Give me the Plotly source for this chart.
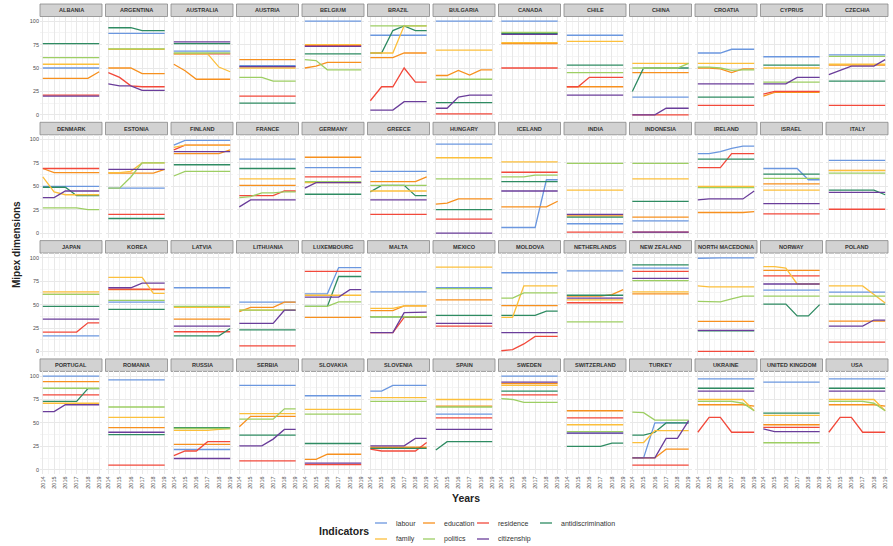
import plotly.graph_objects as go

years = [2014, 2015, 2016, 2017, 2018, 2019]

countries = [
    "ALBANIA", "ARGENTINA", "AUSTRALIA", "AUSTRIA", "BELGIUM", "BRAZIL", "BULGARIA",
    "CANADA", "CHILE", "CHINA", "CROATIA", "CYPRUS", "CZECHIA",
    "DENMARK", "ESTONIA", "FINLAND", "FRANCE", "GERMANY", "GREECE", "HUNGARY",
    "ICELAND", "INDIA", "INDONESIA", "IRELAND", "ISRAEL", "ITALY",
    "JAPAN", "KOREA", "LATVIA", "LITHUANIA", "LUXEMBOURG", "MALTA", "MEXICO",
    "MOLDOVA", "NETHERLANDS", "NEW ZEALAND", "NORTH MACEDONIA", "NORWAY", "POLAND",
    "PORTUGAL", "ROMANIA", "RUSSIA", "SERBIA", "SLOVAKIA", "SLOVENIA", "SPAIN",
    "SWEDEN", "SWITZERLAND", "TURKEY", "UKRAINE", "UNITED KINGDOM", "USA",
]

indicators = ["labour", "education", "residence", "antidiscrimination",
              "family", "politics", "citizenship"]

labour = [
    [50, 50, 50, 50, 50, 50], [87, 87, 87, 87, 87, 87], [68, 68, 68, 68, 68, 68],
    [52.5, 52.5, 52.5, 52.5, 52.5, 52.5], [100, 100, 100, 100, 100, 100], [85, 85, 85, 85, 85, 85],
    [100, 100, 100, 100, 100, 100], [100, 100, 100, 100, 100, 100], [85, 85, 85, 85, 85, 85],
    [19, 19, 19, 19, 19, 19], [66, 66, 66, 70, 70, 70], [62, 62, 62, 62, 62, 62],
    [64, 64, 64, 64, 64, 64],
    [50, 50, 50, 50, 50, 50], [48, 48, 48, 48, 48, 48], [94, 99, 99, 99, 99, 99],
    [79, 79, 79, 79, 79, 79], [70, 70, 70, 70, 70, 70], [66, 66, 66, 66, 66, 66],
    [95, 95, 95, 95, 95, 95], [6, 6, 6, 6, 57, 57], [10, 10, 10, 10, 10, 10],
    [13, 13, 13, 13, 13, 13], [85, 85, 87, 90.5, 93, 93], [69, 69, 69, 69, 57, 57],
    [77.7, 77.7, 77.7, 77.7, 77.7, 77.7],
    [16.7, 16.7, 16.7, 16.7, 16.7, 16.7], [52.7, 52.7, 52.7, 52.7, 52.7, 52.7], [68, 68, 68, 68, 68, 68],
    [52.7, 52.7, 52.7, 52.7, 52.7, 52.7], [61.5, 61.5, 61.5, 89.5, 89.5, 89.5], [63.6, 63.6, 63.6, 63.6, 63.6, 63.6],
    [68, 68, 68, 68, 68, 68], [84, 84, 84, 84, 84, 84], [86, 86, 86, 86, 86, 86],
    [89, 89, 89, 89, 89, 89], [99.5, 100, 100, 100, 100, 100], [65.5, 65.5, 65.5, 65.5, 65.5, 65.5],
    [63.3, 63.3, 63.3, 63.3, 63.3, 63.3],
    [100, 100, 100, 100, 100, 100], [96, 96, 96, 96, 96, 96], [21.6, 21.6, 21.6, 21.6, 21.6, 21.6],
    [90, 90, 90, 90, 90, 90], [79, 79, 79, 79, 79, 79], [84, 84, 90, 90, 90, 90],
    [59.4, 59.4, 59.4, 59.4, 59.4, 59.4], [100, 100, 100, 100, 100, 100], [39, 39, 39, 39, 39, 39],
    [12.6, 12.6, 50, 50, 50, 50], [97, 97, 97, 97, 97, 97], [93.5, 93.5, 93.5, 93.5, 93.5, 93.5],
    [97, 97, 97, 97, 97, 97],
]

education = [
    [39, 39, 39, 39, 39, 46], [50, 50, 50, 44, 44, 44], [54, 47, 38, 38, 38, 38],
    [59, 59, 59, 59, 59, 59], [50, 52, 56, 56, 56, 56], [61, 61, 61, 66, 66, 66],
    [42, 42, 47.5, 42.5, 48, 48], [76, 76, 76, 76, 76, 76], [30, 30, 30, 30, 30, 30],
    [45, 45, 45, 45, 45, 45], [50, 50, 49, 45, 49, 49], [20, 24, 24, 24, 24, 24],
    [53, 53, 53, 53, 53, 53],
    [69, 64.5, 64.5, 64.5, 64.5, 64.5], [64, 64, 64, 64, 64, 68], [85, 85, 85, 85, 85, 89],
    [51, 51, 51, 51, 51, 51], [81, 81, 81, 81, 81, 81], [55, 55, 55, 55, 55, 60],
    [31, 32, 36.5, 36.5, 36.5, 36.5], [28, 28, 28, 28, 28, 34], [18.5, 18.5, 18.5, 18.5, 18.5, 18.5],
    [17, 17, 17, 17, 17, 17], [22, 22, 22, 22, 22, 23], [52.5, 52.5, 52.5, 52.5, 52.5, 52.5],
    [67, 67, 67, 67, 67, 67],
    [61, 61, 61, 61, 61, 61], [66, 66, 66, 66, 66, 66], [34.5, 34.5, 34.5, 34.5, 34.5, 34.5],
    [42.5, 47, 47, 47, 52.7, 52.7], [36.4, 36.4, 36.4, 36.4, 36.4, 36.4], [43.6, 43.6, 43.6, 48.7, 48.7, 48.7],
    [55, 55, 55, 55, 55, 55], [49, 49, 49, 49, 49, 49], [59, 59, 59, 59, 60.7, 66],
    [61.5, 61.5, 61.5, 61.5, 61.5, 61.5], [32, 32, 32, 32, 32, 32], [86.5, 86.5, 86.5, 86.5, 86.5, 86.5],
    [32.4, 32.4, 32.4, 32.4, 32.4, 32.4],
    [94, 94, 94, 94, 94, 94], [45, 45, 45, 45, 45, 45], [27, 27, 27, 27, 27, 27],
    [46, 57, 57, 57, 57, 57], [11, 11, 16.5, 16.5, 16.5, 16.5], [24, 24, 24, 24, 24, 24],
    [68, 68, 68, 68, 68, 68], [92, 92, 92, 92, 92, 92], [63, 63, 63, 63, 63, 63],
    [12.6, 12.6, 12.6, 22, 22, 22], [69.4, 69.4, 69.4, 69.4, 69.4, 68], [48, 48, 48, 48, 48, 48],
    [69.4, 69.4, 69.4, 69.4, 69.4, 68],
]

residence = [
    [21, 21, 21, 21, 21, 21], [45, 40, 31, 30, 30, 30], [65, 65, 65, 65, 65, 65],
    [20, 20, 20, 20, 20, 20], [74, 74, 74, 74, 74, 74], [15, 30, 30, 50, 35, 35],
    [1, 1, 1, 1, 1, 1], [50, 50, 50, 50, 50, 50], [30, 30, 40, 40, 40, 40],
    [0, 0, 0, 0, 0, 0], [10, 10, 10, 10, 10, 10], [22, 25, 25, 25, 25, 25],
    [10, 10, 10, 10, 10, 10],
    [69, 69, 69, 69, 69, 69], [20, 20, 20, 20, 20, 20], [89, 94, 94, 94, 94, 94],
    [40, 40, 40, 40, 45, 45], [60, 60, 60, 60, 60, 60], [20, 20, 20, 20, 20, 20],
    [15, 15, 15, 15, 15, 15], [65, 65, 65, 65, 65, 65], [1, 1, 1, 1, 1, 1],
    [1, 1, 1, 1, 1, 1], [70, 70, 70, 85, 85, 85], [20.6, 20.6, 20.6, 20.6, 20.6, 20.6],
    [25.5, 25.5, 25.5, 25.5, 25.5, 25.5],
    [20.7, 20.7, 20.7, 20.7, 30.5, 30.5], [66.5, 66.5, 66.5, 66.5, 66.5, 66.5], [21, 21, 21, 21, 21, 21],
    [6, 6, 6, 6, 6, 6], [85.5, 85.5, 85.5, 85.5, 85.5, 85.5], [20, 20, 20, 36.4, 36.4, 36.4],
    [27, 27, 27, 27, 27, 27], [0.7, 2, 8, 16, 16, 16], [52, 52, 52, 52, 52, 52],
    [85.5, 85.5, 85.5, 85.5, 85.5, 85.5], [0, 0, 0, 0, 0, 0], [80.7, 80.7, 80.7, 80.7, 80.7, 80.7],
    [10, 10, 10, 10, 10, 10],
    [80, 80, 80, 80, 80, 80], [5, 5, 5, 5, 5, 5], [15, 20, 20, 30, 30, 30],
    [9.4, 9.4, 9.4, 9.4, 9.4, 9.4], [5.4, 5.4, 5.4, 5.4, 5.4, 5.4], [22, 20, 20, 20, 20, 29],
    [55.4, 55.4, 55.4, 55.4, 55.4, 55.4], [80, 80, 80, 80, 80, 80], [55.4, 55.4, 55.4, 55.4, 55.4, 55.4],
    [5, 5, 5, 5, 5, 5], [40, 56, 56, 40, 40, 40], [45.3, 45.3, 45.3, 45.3, 45.3, 45.3],
    [40, 56, 56, 40, 40, 40],
]

antidiscrimination = [
    [76, 76, 76, 76, 76, 76], [93, 93, 93, 90, 90, 90], [76, 76, 76, 76, 76, 76],
    [12.5, 12.5, 12.5, 12.5, 12.5, 12.5], [65, 65, 65, 65, 65, 65], [66, 66, 90, 95, 90, 90],
    [13, 13, 13, 13, 13, 13], [87, 87, 87, 87, 87, 87], [53, 53, 53, 53, 53, 53],
    [25, 50, 50, 50, 50, 50], [19, 19, 19, 19, 19, 19], [53, 53, 53, 53, 53, 53],
    [36, 36, 36, 36, 36, 36],
    [49, 49, 49, 40, 40, 40], [15.6, 15.6, 15.6, 15.6, 15.6, 15.6], [73, 73, 73, 73, 73, 73],
    [69, 69, 69, 69, 69, 69], [41.5, 41.5, 41.5, 41.5, 41.5, 41.5], [44, 51, 51, 51, 40, 40],
    [25, 25, 25, 25, 25, 25], [55, 55, 55, 55, 55, 55], [17, 17, 17, 17, 17, 17],
    [34, 34, 34, 34, 34, 34], [79, 79, 79, 79, 79, 79], [63, 63, 63, 63, 63, 63],
    [46, 46, 46, 46, 46, 41],
    [48, 48, 48, 48, 48, 48], [45, 45, 45, 45, 45, 45], [16.7, 16.7, 16.7, 16.7, 16.7, 24.4],
    [23, 23, 23, 23, 23, 23], [48, 48, 48, 80, 80, 80], [37, 37, 37, 37, 37, 37],
    [38.5, 38.5, 38.5, 38.5, 38.5, 38.5], [38.5, 38.5, 38.5, 38.5, 43, 43], [60, 60, 60, 60, 60, 60],
    [92.4, 92.4, 92.4, 92.4, 92.4, 92.4], [22, 22, 22, 22, 22, 22], [50.5, 50.5, 50.5, 38, 38, 50],
    [50.5, 50.5, 50.5, 50.5, 50.5, 50.5],
    [73, 73, 73, 73, 86.7, 86.7], [37.5, 37.5, 37.5, 37.5, 37.5, 37.5], [45, 45, 45, 45, 45, 45],
    [37, 37, 37, 37, 37, 37], [28, 28, 28, 28, 28, 28], [22.7, 22.7, 22.7, 22.7, 22.7, 22.7],
    [21, 30, 30, 30, 30, 30], [84, 84, 84, 84, 84, 84], [25, 25, 25, 25, 28.4, 28.4],
    [37, 37, 40, 50, 50, 50], [87, 87, 87, 87, 87, 87], [60.4, 60.4, 60.4, 60.4, 60.4, 60.4],
    [87, 87, 87, 87, 87, 87],
]

family = [
    [54, 54, 54, 54, 54, 54], [70, 70, 70, 70, 70, 70], [65, 65, 65, 65, 51, 46],
    [50, 50, 50, 50, 50, 50], [75, 75, 75, 75, 75, 75], [66, 66, 66, 95, 95, 95],
    [69, 69, 69, 69, 69, 69], [77, 77, 77, 77, 77, 77], [78.5, 78.5, 78.5, 78.5, 78.5, 78.5],
    [55, 55, 55, 55, 55, 55], [55, 55, 55, 55, 55, 55], [50, 50, 50, 50, 50, 50],
    [54, 54, 54, 54, 54, 54],
    [60, 44, 41, 41, 41, 41], [64.5, 64.5, 66, 75, 75, 75], [91.5, 94, 94, 94, 94, 94],
    [58, 58, 58, 58, 58, 58], [54, 54, 54, 54, 54, 54], [45, 45, 45, 45, 45, 45],
    [80.5, 80.5, 80.5, 80.5, 80.5, 80.5], [76, 76, 76, 76, 76, 76], [46, 46, 46, 46, 46, 46],
    [58, 58, 58, 58, 58, 58], [50, 50, 50, 50, 50, 50], [46, 46, 46, 46, 46, 46],
    [66.7, 66.7, 66.7, 66.7, 66.7, 66.7],
    [63.6, 63.6, 63.6, 63.6, 63.6, 63.6], [79, 79, 79, 79, 62, 62], [47, 47, 47, 47, 47, 47],
    [44, 44, 44, 44, 44, 44], [60, 60, 60, 60, 60, 60], [46, 46, 46, 48.7, 48.7, 48.7],
    [90, 90, 90, 90, 90, 90], [36.4, 36.4, 70, 70, 70, 70], [55, 55, 55, 55, 55, 55],
    [63.6, 63.6, 63.6, 63.6, 63.6, 63.6], [70, 69, 69, 69, 69, 69], [90.5, 90.5, 89, 72, 72, 72],
    [70, 70, 70, 70, 60.7, 51.6],
    [71, 71, 71, 71, 71, 71], [56, 56, 56, 56, 56, 56], [42, 42, 42, 42, 43, 44],
    [60, 60, 60, 60, 60, 60], [64.4, 64.4, 64.4, 64.4, 64.4, 64.4], [77, 77, 77, 77, 77, 77],
    [75, 75, 75, 75, 75, 75], [90, 90, 90, 90, 90, 90], [48, 48, 48, 48, 48, 48],
    [29, 29, 41.7, 41.7, 41.7, 41.7], [75, 75, 75, 75, 75, 63], [58, 58, 58, 58, 58, 58],
    [75, 75, 75, 75, 75, 63],
]

politics = [
    [61, 61, 61, 61, 61, 61], [70.5, 70.5, 70.5, 70.5, 70.5, 70.5], [66, 66, 66, 66, 66, 66],
    [40, 40, 40, 36, 36, 36], [59, 58, 48, 48, 48, 48], [95, 95, 95, 95, 95, 95],
    [38, 38, 38, 38, 38, 38], [88, 88, 88, 88, 88, 88], [45, 45, 45, 45, 45, 45],
    [50, 50, 50, 50, 50, 55], [51, 51, 50, 47.5, 48, 48], [35, 35, 35, 35, 35, 35],
    [62.5, 62.5, 62.5, 62.5, 62.5, 62.5],
    [27, 27, 27, 27, 25, 25], [48, 48, 60, 75, 75, 75], [61, 66, 66, 66, 66, 66],
    [38, 39, 43, 43, 44, 44], [55, 55, 55, 55, 55, 55], [51, 51, 51, 51, 51, 51],
    [58, 58, 58, 58, 58, 58], [60, 60, 60, 62, 62, 62], [74.5, 74.5, 74.5, 74.5, 74.5, 74.5],
    [74.5, 74.5, 74.5, 74.5, 74.5, 74.5], [48.6, 48.6, 48.6, 48.6, 48.6, 48.6], [58.5, 58.5, 58.5, 58.5, 58.5, 58.5],
    [64, 64, 64, 64, 64, 64],
    [61, 61, 61, 61, 61, 61], [54.5, 54.5, 54.5, 54.5, 54.5, 54.5], [48, 48, 48, 48, 48, 48],
    [44, 44, 44, 44, 44, 44], [48, 48, 48, 53, 53, 53], [37, 37, 37, 37, 37, 37],
    [67, 67, 67, 67, 67, 67], [57, 57, 62.5, 62.5, 62.5, 62.5], [31.6, 31.6, 31.6, 31.6, 31.6, 31.6],
    [75.6, 75.6, 75.6, 75.6, 75.6, 75.6], [53.5, 53.5, 53, 56, 59, 59], [59, 59, 59, 59, 59, 59],
    [59, 59, 59, 59, 59, 59],
    [87, 87, 87, 87, 87, 87], [67, 67, 67, 67, 67, 67], [44, 44, 44, 44, 44, 44],
    [54, 54, 54, 54, 65, 65], [59.4, 59.4, 59.4, 59.4, 59.4, 59.4], [73, 73, 73, 73, 73, 73],
    [67, 67, 67, 67, 67, 67], [76, 75, 72, 72, 72, 72], [40.6, 40.6, 40.6, 40.6, 40.6, 40.6],
    [61.5, 61, 53, 53, 53, 53], [73, 73, 73, 73, 71, 63], [28.8, 28.8, 28.8, 28.8, 28.8, 28.8],
    [73, 73, 73, 73, 71, 63],
]

citizenship = [
    [20, 20, 20, 20, 20, 20], [33, 31, 31, 26, 26, 26], [78, 78, 78, 78, 78, 78],
    [51.5, 51.5, 51.5, 51.5, 51.5, 51.5], [73, 73, 73, 73, 73, 73], [5, 5, 5, 14, 14, 14],
    [7, 7, 19, 21, 21, 21], [86, 86, 86, 86, 86, 86], [21, 21, 21, 21, 21, 21],
    [0, 0, 0, 7, 7, 7], [33, 33, 33, 33, 33, 33], [33, 33, 33, 40, 40, 40],
    [43, 47.5, 52, 52, 52, 59],
    [38, 38, 45, 45, 45, 45], [68, 68, 68, 68, 68, 68], [87, 87, 87, 87, 87, 87],
    [28, 35.5, 35.5, 35.5, 35.5, 35.5], [48, 54, 54, 54, 54, 54], [35.5, 35.5, 35.5, 35.5, 35.5, 35.5],
    [0, 0, 0, 0, 0, 0], [45, 45, 45, 45, 45, 45], [20, 20, 20, 20, 20, 20],
    [1, 1, 1, 1, 1, 1], [35.5, 36.5, 36.5, 36.5, 36.5, 45], [31.5, 31.5, 31.5, 31.5, 31.5, 31.5],
    [43.6, 43.6, 43.6, 43.6, 43.6, 43.6],
    [34.5, 34.5, 34.5, 34.5, 34.5, 34.5], [68, 68, 68, 73, 73, 73], [27, 27, 27, 27, 27, 27],
    [30, 30, 30, 30, 44, 44], [58, 58, 58, 58, 66, 66], [20, 20, 20, 41.5, 42, 42],
    [30, 30, 30, 30, 30, 30], [20, 20, 20, 20, 20, 20], [57, 57, 57, 57, 57, 57],
    [78, 78, 78, 78, 78, 78], [22.5, 22.5, 22.5, 22.5, 22.5, 22.5], [72, 72, 72, 72, 72, 72],
    [27, 27, 27, 27, 33.5, 33.5],
    [62, 62, 69.4, 69.4, 69.4, 69.4], [40, 40, 40, 40, 40, 40], [12, 12, 12, 12, 12, 12],
    [25.5, 25.5, 25.5, 32.7, 43, 43], [7, 7, 7, 7, 7, 7], [25.5, 25.5, 25.5, 25.5, 33.5, 33.5],
    [43, 43, 43, 43, 43, 43], [93.5, 93.5, 93.5, 93.5, 93.5, 93.5], [39, 39, 39, 39, 39, 39],
    [12.6, 12.6, 12.6, 33.5, 33.5, 52.5], [84, 84, 84, 84, 84, 84], [43.5, 40.6, 40.6, 40.6, 40.6, 40.6],
    [84, 84, 84, 84, 84, 84],
]

series = {
    "labour": labour, "education": education, "residence": residence,
    "antidiscrimination": antidiscrimination, "family": family,
    "politics": politics, "citizenship": citizenship,
}
colors = {
    "labour": "#6b97df", "education": "#f7901e", "residence": "#f2493b",
    "antidiscrimination": "#2e8b62", "family": "#fcbf3b", "politics": "#9dce63",
    "citizenship": "#6a3d9a",
}

W, H = 893, 546
NCOL = 13
COL_X0, COL_PITCH, COL_W = 40, 65.5, 62
ROW_Y0, ROW_PITCH, STRIP_H, PANEL_H = 4, 118.3, 12.5, 103
FONT = "Liberation Sans"

fig = go.Figure()
layout = {}
shapes = []
annotations = []

for i, country in enumerate(countries):
    r, c = divmod(i, NCOL)
    x0 = COL_X0 + c * COL_PITCH
    x1 = x0 + COL_W
    st = ROW_Y0 + r * ROW_PITCH
    pt = st + STRIP_H
    pb = pt + PANEL_H
    n = "" if i == 0 else str(i + 1)
    layout["xaxis" + n] = dict(
        domain=[x0 / W, x1 / W], anchor="y" + n, range=[2013.75, 2019.25],
        tickmode="linear", tick0=2014, dtick=1, showticklabels=(r == 3),
        tickangle=-90, tickfont=dict(size=5.5, color="#4d4d4d", family=FONT),
        showgrid=True, gridcolor="#e8e8e8", gridwidth=0.8,
        minor=dict(dtick=0.5, showgrid=True, gridcolor="#f4f4f4", gridwidth=0.5),
        zeroline=False, showline=False, ticks="", fixedrange=True,
    )
    layout["yaxis" + n] = dict(
        domain=[1 - pb / H, 1 - pt / H], anchor="x" + n, range=[-5, 105],
        tickmode="linear", tick0=0, dtick=25, showticklabels=(c == 0),
        tickfont=dict(size=5.5, color="#4d4d4d", family=FONT),
        showgrid=True, gridcolor="#e8e8e8", gridwidth=0.8,
        minor=dict(dtick=12.5, showgrid=True, gridcolor="#f4f4f4", gridwidth=0.5),
        zeroline=False, showline=False, ticks="", fixedrange=True,
    )
    shapes.append(dict(
        type="rect", xref="paper", yref="paper",
        x0=x0 / W, x1=x1 / W, y0=1 - pt / H, y1=1 - st / H,
        fillcolor="#d2d2d2", line=dict(color="#888888", width=0.8), layer="below",
    ))
    annotations.append(dict(
        text="<b>" + country + "</b>", xref="paper", yref="paper",
        x=(x0 + x1) / 2 / W, y=1 - (st + STRIP_H / 2) / H, showarrow=False,
        font=dict(size=5.6, color="#333333", family=FONT),
        xanchor="center", yanchor="middle",
    ))
    for ind in indicators:
        fig.add_trace(go.Scatter(
            x=years, y=series[ind][i], mode="lines", name=ind,
            line=dict(color=colors[ind], width=1.3),
            xaxis="x" + n, yaxis="y" + n, showlegend=False,
        ))

# axis titles
annotations.append(dict(
    text="<b>Mipex dimensions</b>", xref="paper", yref="paper", x=17 / W,
    y=1 - 245 / H, showarrow=False, textangle=-90, xanchor="center", yanchor="middle",
    font=dict(size=10, color="#222222", family=FONT),
))
annotations.append(dict(
    text="<b>Years</b>", xref="paper", yref="paper", x=466 / W,
    y=1 - 498 / H, showarrow=False, xanchor="center", yanchor="middle",
    font=dict(size=10.5, color="#222222", family=FONT),
))

# legend drawn as keys + labels (two rows, ggplot style)
annotations.append(dict(
    text="<b>Indicators</b>", xref="paper", yref="paper", x=317 / W,
    y=1 - 531 / H, showarrow=False, xanchor="left", yanchor="middle",
    font=dict(size=10.5, color="#222222", family=FONT),
))
key_x = [375, 423, 477, 540, 375, 423, 477]
key_y = [523, 523, 523, 523, 539, 539, 539]
for ind, kx, ky in zip(indicators, key_x, key_y):
    shapes.append(dict(
        type="line", xref="paper", yref="paper",
        x0=kx / W, x1=(kx + 12) / W, y0=1 - ky / H, y1=1 - ky / H,
        line=dict(color=colors[ind], width=1.3),
    ))
    annotations.append(dict(
        text=ind, xref="paper", yref="paper", x=(kx + 19) / W, y=1 - ky / H,
        showarrow=False, xanchor="left", yanchor="middle",
        font=dict(size=7, color="#333333", family=FONT),
    ))

fig.update_layout(
    **layout,
    shapes=shapes, annotations=annotations,
    width=W, height=H, margin=dict(l=0, r=0, t=0, b=0),
    plot_bgcolor="white", paper_bgcolor="white",
    showlegend=False,
)

fig.write_html(
    "out.html",
    config={"displayModeBar": False},
    post_script="document.body.style.margin='0';document.body.style.padding='0';",
)
